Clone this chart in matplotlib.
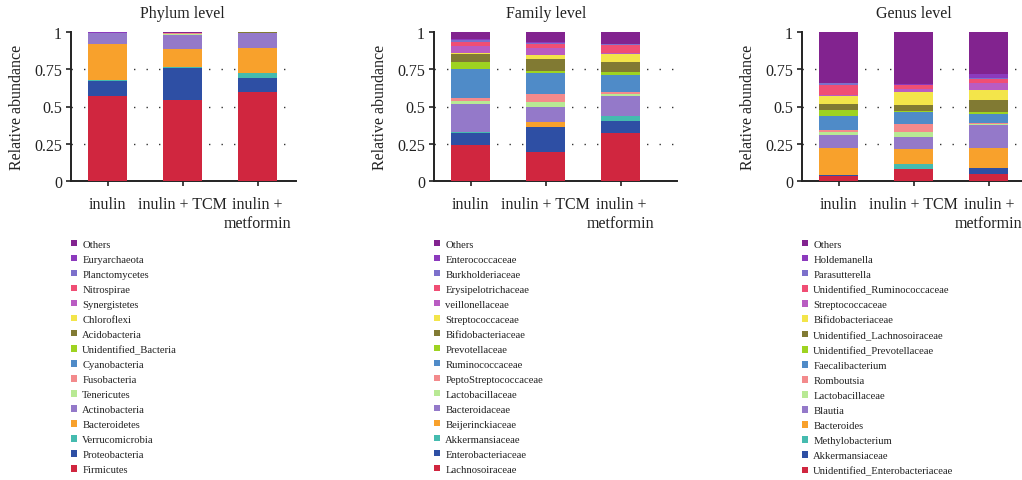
import matplotlib
matplotlib.use("Agg")
import matplotlib.pyplot as plt
import matplotlib.transforms as mtransforms
from matplotlib.patches import Patch

plt.rcParams['font.family'] = ['Liberation Serif', 'DejaVu Serif']

groups = ['inulin', 'inulin + TCM', 'inulin +\nmetformin']

# stack order: bottom -> top
colors = ['#D0263F', '#2E4FA4', '#45BBAF', '#F8A12C', '#9479C9', '#B8E994',
          '#F38A8C', '#4F8BC8', '#9ED321', '#817A33', '#F3E54A', '#B95CC2',
          '#F04E74', '#7C70CB', '#8C3ABD', '#82238F']

phylum_names = ['Firmicutes', 'Proteobacteria', 'Verrucomicrobia', 'Bacteroidetes',
                'Actinobacteria', 'Tenericutes', 'Fusobacteria', 'Cyanobacteria',
                'Unidentified_Bacteria', 'Acidobacteria', 'Chloroflexi', 'Synergistetes',
                'Nitrospirae', 'Planctomycetes', 'Euryarchaeota', 'Others']
phylum_inulin = [0.568, 0.101, 0.006, 0.244, 0.072, 0.001, 0.001, 0.001,
                 0.001, 0.001, 0.0, 0.0, 0.0, 0.0, 0.001, 0.003]
phylum_tcm = [0.546, 0.215, 0.002, 0.121, 0.098, 0.007, 0.001, 0.001,
              0.001, 0.002, 0.0, 0.0, 0.0, 0.0, 0.002, 0.004]
phylum_met = [0.595, 0.094, 0.038, 0.168, 0.096, 0.001, 0.001, 0.001,
              0.0, 0.003, 0.0, 0.0, 0.0, 0.0, 0.001, 0.002]

family_names = ['Lachnosoiraceae', 'Enterobacteriaceae', 'Akkermansiaceae', 'Beijerinckiaceae',
                'Bacteroidaceae', 'Lactobacillaceae', 'PeptoStreptococcaceae', 'Ruminococcaceae',
                'Prevotellaceae', 'Bifidobacteriaceae', 'Streptococcaceae', 'veillonellaceae',
                'Erysipelotrichaceae', 'Burkholderiaceae', 'Enterococcaceae', 'Others']
family_inulin = [0.244, 0.078, 0.007, 0.002, 0.184, 0.020, 0.022, 0.192,
                 0.047, 0.054, 0.011, 0.045, 0.025, 0.016, 0.003, 0.050]
family_tcm = [0.195, 0.167, 0.002, 0.032, 0.098, 0.034, 0.056, 0.141,
              0.013, 0.081, 0.024, 0.047, 0.027, 0.009, 0.004, 0.070]
family_met = [0.322, 0.081, 0.033, 0.003, 0.131, 0.012, 0.015, 0.112,
              0.023, 0.067, 0.053, 0.008, 0.051, 0.008, 0.003, 0.078]

genus_names = ['Unidentified_Enterobacteriaceae', 'Akkermansiaceae', 'Methylobacterium',
               'Bacteroides', 'Blautia', 'Lactobacillaceae', 'Romboutsia', 'Faecalibacterium',
               'Unidentified_Prevotellaceae', 'Unidentified_Lachnosoiraceae', 'Bifidobacteriaceae',
               'Streptococcaceae', 'Unidentified_Ruminococcaceae', 'Parasutterella',
               'Holdemanella', 'Others']
genus_inulin = [0.031, 0.007, 0.002, 0.181, 0.090, 0.018, 0.016, 0.093,
                0.039, 0.038, 0.053, 0.008, 0.066, 0.016, 0.002, 0.340]
genus_tcm = [0.078, 0.004, 0.034, 0.098, 0.081, 0.034, 0.054, 0.081,
             0.009, 0.040, 0.085, 0.022, 0.022, 0.004, 0.002, 0.352]
genus_met = [0.049, 0.040, 0.001, 0.130, 0.154, 0.009, 0.009, 0.056,
             0.013, 0.081, 0.067, 0.049, 0.029, 0.003, 0.031, 0.279]

panels = [
    ('Phylum level', phylum_names, [phylum_inulin, phylum_tcm, phylum_met], 71, 2.51),
    ('Family level', family_names, [family_inulin, family_tcm, family_met], 434, 2.75),
    ('Genus level', genus_names, [genus_inulin, genus_tcm, genus_met], 802, 2.6),
]

W, H = 1022, 481
fig = plt.figure(figsize=(W / 100, H / 100), dpi=100)
px_per_unit = 75
y0_px, y1_px = 182, 33

for title, names, vals, left_px, xmax in panels:
    xmin = -0.49
    width_px = (xmax - xmin) * px_per_unit
    ax = fig.add_axes([left_px / W, (H - y0_px) / H, width_px / W, (y0_px - y1_px) / H])
    x = list(range(len(groups)))
    bottoms = [0.0] * len(groups)
    for i in range(len(names)):
        h = [v[i] for v in vals]
        ax.bar(x, h, 0.52, bottom=bottoms, color=colors[i], zorder=3, linewidth=0)
        bottoms = [b + hh for b, hh in zip(bottoms, h)]
    for yv in [0.25, 0.5, 0.75]:
        ax.axhline(yv, color='#333333', lw=1.0, linestyle=(0, (1, 8)), zorder=1)
    ax.set_xlim(xmin, xmax)
    ax.set_ylim(0, 1)
    ax.set_yticks([0, 0.25, 0.5, 0.75, 1])
    ax.set_yticklabels(['0', '0.25', '0.5', '0.75', '1'])
    ax.set_xticks(x)
    ax.set_xticklabels(groups, linespacing=1.25)
    ax.tick_params(axis='both', labelsize=11.5, direction='out', length=3.5,
                   width=1.2, color='#222222', labelcolor='#222222')
    ax.tick_params(axis='x', pad=7)
    ax.tick_params(axis='y', pad=3)
    for s in ['top', 'right']:
        ax.spines[s].set_visible(False)
    for s in ['left', 'bottom']:
        ax.spines[s].set_linewidth(1.4)
        ax.spines[s].set_color('#222222')
    ax.set_ylabel('Relative abundance', fontsize=11.5, color='#222222')
    ax.yaxis.set_label_coords(-46 / width_px, 0.5)
    trans = mtransforms.blended_transform_factory(ax.transData, ax.transAxes)
    ax.text(1, 1.13, title, transform=trans, ha='center', va='center',
            fontsize=11.5, color='#222222')

    handles = [Patch(facecolor=colors[i], edgecolor='none', label=names[i])
               for i in range(len(names))][::-1]
    fig.legend(handles=handles, loc='upper left',
               bbox_to_anchor=(left_px / W, (H - 241) / H),
               bbox_transform=fig.transFigure, frameon=False, fontsize=7.7,
               handlelength=0.55, handleheight=0.55, handletextpad=0.5,
               labelspacing=0.56, borderpad=0, borderaxespad=0,
               labelcolor='#222222')

fig.savefig('out.png', dpi=100)
